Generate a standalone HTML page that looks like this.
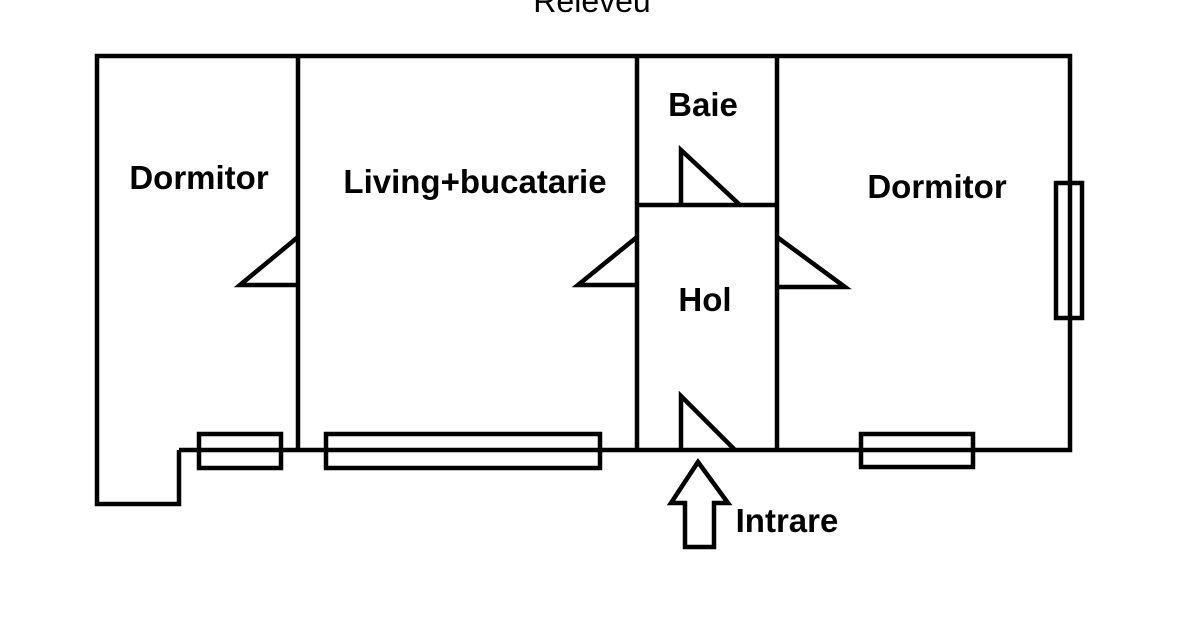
<!DOCTYPE html>
<html><head><style>
body{margin:0;background:#fff;}
svg text{font-family:"Liberation Sans",Arial,sans-serif;font-weight:bold;font-size:33px;fill:#000;text-anchor:middle;}
</style></head><body>
<svg width="1200" height="630" viewBox="0 0 1200 630" xmlns="http://www.w3.org/2000/svg">
<text x="592" y="12" style="font-weight:normal;font-size:32px">Releveu</text>
<g fill="none" stroke="#000" stroke-width="4.5">
<polyline points="179,450 179,504 97,504 97,56 1070,56 1070,450 179,450"/>
<line x1="298" y1="56" x2="298" y2="450"/>
<line x1="637" y1="56" x2="637" y2="450"/>
<line x1="777" y1="56" x2="777" y2="450"/>
<line x1="637" y1="205" x2="777" y2="205"/>
<rect x="199" y="434" width="82" height="34"/>
<rect x="326" y="434" width="274" height="34"/>
<rect x="861" y="434" width="112" height="33"/>
<rect x="1056" y="183" width="26" height="135"/>
<polyline points="298,237 240,285 298,285"/>
<polyline points="637,237 578,285 637,285"/>
<polyline points="777,237 845,287 777,287"/>
<polyline points="681,205 681,150 740,205"/>
<polyline points="681,450 681,396 735,450"/>
<polygon points="698,462 728,503 714,503 714,547 685,547 685,503 671,503"/>
</g>
<text x="199" y="189">Dormitor</text>
<text x="475" y="193">Living+bucatarie</text>
<text x="703" y="116">Baie</text>
<text x="705" y="311">Hol</text>
<text x="937" y="198">Dormitor</text>
<text x="787" y="532">Intrare</text>
</svg>
</body></html>
